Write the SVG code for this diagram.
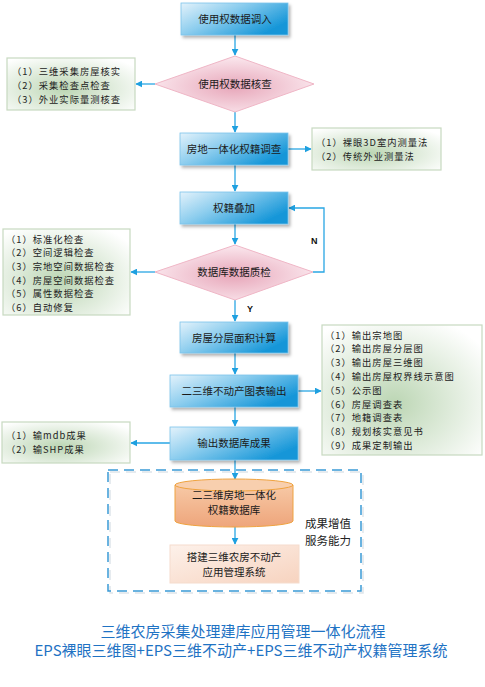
<svg xmlns="http://www.w3.org/2000/svg" width="485" height="687" viewBox="0 0 485 687">
<defs>
<linearGradient id="gBox" x1="0" y1="0" x2="1" y2="0.6">
<stop offset="0" stop-color="#e3f2fb"/>
<stop offset="0.45" stop-color="#8ccdee"/>
<stop offset="1" stop-color="#1596d8"/>
</linearGradient>
<radialGradient id="gDia" cx="0.5" cy="0.55" r="0.55">
<stop offset="0" stop-color="#e7a6b9"/>
<stop offset="1" stop-color="#fbe9ef"/>
</radialGradient>
<radialGradient id="gNote" cx="0.45" cy="0.6" r="0.7">
<stop offset="0" stop-color="#bcd6b4"/>
<stop offset="1" stop-color="#ffffff"/>
</radialGradient>
<linearGradient id="gCyl" x1="0" y1="0" x2="0" y2="1">
<stop offset="0" stop-color="#f7c9a6"/>
<stop offset="1" stop-color="#eea57b"/>
</linearGradient>
<linearGradient id="gApp" x1="0" y1="0" x2="1" y2="1">
<stop offset="0" stop-color="#fdf1ea"/>
<stop offset="1" stop-color="#f7d3bf"/>
</linearGradient>
<filter id="sh" x="-10%" y="-20%" width="130%" height="160%">
<feDropShadow dx="2" dy="2.5" stdDeviation="1.5" flood-color="#000" flood-opacity="0.3"/>
</filter>
<marker id="ah" viewBox="0 0 10 10" refX="9" refY="5" markerWidth="7" markerHeight="7" markerUnits="userSpaceOnUse" orient="auto">
<path d="M0,0 L10,5 L0,10 z" fill="#1ea0e0"/>
</marker>
<style>
.box{fill:url(#gBox);stroke:#7cc4ea;stroke-width:0.8;filter:url(#sh)}
.dia{fill:url(#gDia);stroke:#efb6c6;stroke-width:1}
.note{fill:url(#gNote);stroke:#c7d9c0;stroke-width:1.2}
.t{font-family:"Noto Sans CJK SC","Noto Sans",sans-serif;font-size:10.5px;fill:#1a1a1a;text-anchor:middle}
.n{font-family:"Noto Sans CJK SC","Noto Sans",sans-serif;font-size:9.3px;letter-spacing:1px;fill:#222}
.c{fill:none;stroke:#29a6e4;stroke-width:1.3;marker-end:url(#ah)}
.lbl{font-family:"Liberation Sans",Arial,sans-serif;font-size:9px;font-weight:bold;fill:#111}
.title{font-family:"Noto Sans CJK SC","Noto Sans",sans-serif;font-size:15px;fill:#1f73c4;text-anchor:middle}
</style>
</defs>
<rect width="485" height="687" fill="#ffffff"/>

<g id="connectors">
<path class="c" d="M235,35 V55"/>
<path class="c" d="M235,112 V132"/>
<path class="c" d="M155,84 H136"/>
<path class="c" d="M288,149 H311"/>
<path class="c" d="M235,165 V191"/>
<path class="c" d="M235,224 V244"/>
<path class="c" d="M313,272 H324 V208 H289"/>
<path class="c" d="M155,272 H131"/>
<path class="c" d="M235,300 V321"/>
<path class="c" d="M235,353 V374"/>
<path class="c" d="M298,391 H321"/>
<path class="c" d="M235,407 V426"/>
<path class="c" d="M170,443 H131"/>
<path class="c" d="M235,460 V479"/>
<path class="c" d="M235,527 V544"/>
<text class="lbl" x="311" y="244">N</text>
<text class="lbl" x="247" y="312">Y</text>
</g>

<g id="n1"><rect class="box" x="181" y="3" width="107" height="32"/><text class="t" x="235" y="23">使用权数据调入</text></g>
<g id="d1"><polygon class="dia" points="235,56 314,84 235,112 155,84"/><text class="t" x="235" y="88">使用权数据核查</text></g>
<g id="note1"><rect class="note" x="7" y="58" width="128" height="52"/>
<text class="n" x="12" y="74.5">（1）三维采集房屋核实</text>
<text class="n" x="12" y="88.5">（2）采集检查点检查</text>
<text class="n" x="12" y="102.5">（3）外业实际量测核查</text></g>
<g id="n2"><rect class="box" x="180" y="133" width="108" height="32"/><text class="t" x="234" y="153">房地一体化权籍调查</text></g>
<g id="note2"><rect class="note" x="312" y="128" width="129" height="42"/>
<text class="n" x="316" y="145.5">（1）裸眼3D室内测量法</text>
<text class="n" x="316" y="159.5">（2）传统外业测量法</text></g>
<g id="n3"><rect class="box" x="180" y="192" width="108" height="32"/><text class="t" x="234" y="212">权籍叠加</text></g>
<g id="d2"><polygon class="dia" points="235,245 313,272 235,300 155,272"/><text class="t" x="234" y="276">数据库数据质检</text></g>
<g id="note3"><rect class="note" x="3" y="229" width="127" height="86"/>
<text class="n" x="6" y="242.5">（1）标准化检查</text>
<text class="n" x="6" y="256.2">（2）空间逻辑检查</text>
<text class="n" x="6" y="269.9">（3）宗地空间数据检查</text>
<text class="n" x="6" y="283.6">（4）房屋空间数据检查</text>
<text class="n" x="6" y="297.3">（5）属性数据检查</text>
<text class="n" x="6" y="311">（6）自动修复</text></g>
<g id="n4"><rect class="box" x="180" y="322" width="108" height="31"/><text class="t" x="234" y="342">房屋分层面积计算</text></g>
<g id="n5"><rect class="box" x="170" y="375" width="128" height="32"/><text class="t" x="234" y="395">二三维不动产图表输出</text></g>
<g id="note4"><rect class="note" x="322" y="325" width="160" height="130"/>
<text class="n" x="325" y="338.5">（1）输出宗地图</text>
<text class="n" x="325" y="352.3">（2）输出房屋分层图</text>
<text class="n" x="325" y="366.1">（3）输出房屋三维图</text>
<text class="n" x="325" y="379.9">（4）输出房屋权界线示意图</text>
<text class="n" x="325" y="393.7">（5）公示图</text>
<text class="n" x="325" y="407.5">（6）房屋调查表</text>
<text class="n" x="325" y="421.3">（7）地籍调查表</text>
<text class="n" x="325" y="435.1">（8）规划核实意见书</text>
<text class="n" x="325" y="448.9">（9）成果定制输出</text></g>
<g id="n6"><rect class="box" x="170" y="427" width="128" height="33"/><text class="t" x="234" y="447">输出数据库成果</text></g>
<g id="note5"><rect class="note" x="2" y="422" width="128" height="41"/>
<text class="n" x="6" y="438.5">（1）输mdb成果</text>
<text class="n" x="6" y="452.5">（2）输SHP成果</text></g>

<g id="group">
<rect x="110" y="472" width="253" height="121" fill="none" stroke="#c8d4dc" stroke-width="1.5" stroke-dasharray="10,6" opacity="0.6"/>
<rect x="108" y="470" width="253" height="121" fill="none" stroke="#3a9ad6" stroke-width="1.5" stroke-dasharray="10,6"/>
<text class="n" x="305" y="528" style="font-size:11.5px;letter-spacing:0">成果增值</text>
<text class="n" x="305" y="545" style="font-size:11.5px;letter-spacing:0">服务能力</text>
</g>
<g id="db">
<path d="M175,485 V521 A59,6 0 0 0 293,521 V485 Z" fill="url(#gCyl)" stroke="#efa340" stroke-width="1"/>
<ellipse cx="234" cy="485" rx="59" ry="6" fill="#f8cfae" stroke="#efa340" stroke-width="1"/>
<text class="t" x="234" y="499">二三维房地一体化</text>
<text class="t" x="234" y="514">权籍数据库</text>
</g>
<g id="app">
<rect x="170" y="545" width="129" height="38" fill="url(#gApp)" stroke="#f5dccd" stroke-width="1"/>
<text class="t" x="234" y="561">搭建三维农房不动产</text>
<text class="t" x="234" y="576">应用管理系统</text>
</g>

<g id="title">
<text class="title" x="243" y="637">三维农房采集处理建库应用管理一体化流程</text>
<text class="title" x="241" y="656">EPS裸眼三维图+EPS三维不动产+EPS三维不动产权籍管理系统</text>
</g>
</svg>
